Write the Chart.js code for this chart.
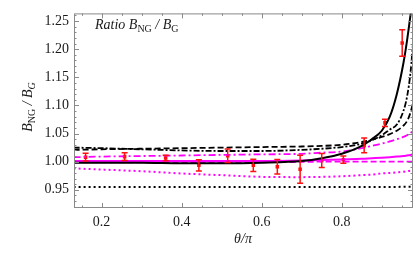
<!DOCTYPE html>
<html>
<head>
<meta charset="utf-8">
<script src="https://cdn.jsdelivr.net/npm/chart.js@4.4.1/dist/chart.umd.min.js"></script>
<style>
  html, body { margin: 0; padding: 0; background: #fff; }
  #wrap { width: 419px; height: 259px; }
</style>
</head>
<body>
<div id="wrap"><canvas id="ratioChart" width="419" height="259"></canvas></div>
<script>
const curveX = [0.13, 0.2, 0.3, 0.4, 0.5, 0.6, 0.7, 0.75, 0.8, 0.85, 0.875, 0.9, 0.92, 0.9375, 0.954, 0.963, 0.972, 0.978];

const blackSolid   = [0.998, 0.998, 0.998, 0.997, 0.997, 0.998, 1.001, 1.006, 1.014, 1.028, 1.040, 1.055, 1.080, 1.120, 1.175, 1.215, 1.262, 1.295];
const blackDashed  = [1.021, 1.022, 1.023, 1.024, 1.025, 1.026, 1.027, 1.028, 1.030, 1.035, 1.039, 1.044, 1.049, 1.055, 1.064, 1.072, 1.088, 1.105];
const blackDashDot = [1.025, 1.024, 1.022, 1.020, 1.019, 1.019, 1.021, 1.023, 1.026, 1.032, 1.038, 1.047, 1.057, 1.066, 1.090, 1.115, 1.160, 1.210];
const blackDotted  = [0.955, 0.955, 0.955, 0.955, 0.955, 0.955, 0.955, 0.955, 0.955, 0.955, 0.955, 0.955, 0.955, 0.955, 0.9555, 0.9555, 0.9555, 0.9555];

const magSolid   = [1.001, 1.001, 1.001, 1.001, 1.001, 1.001, 1.002, 1.003, 1.004, 1.005, 1.006, 1.007, 1.008, 1.009, 1.010, 1.011, 1.012, 1.013];
const magDashed  = [0.999, 0.999, 0.999, 0.999, 0.999, 0.999, 0.9995, 1.000, 1.000, 1.000, 1.000, 1.000, 1.000, 1.000, 1.000, 1.000, 1.000, 1.000];
const magDashDot = [1.008, 1.009, 1.010, 1.011, 1.012, 1.013, 1.014, 1.016, 1.018, 1.024, 1.028, 1.032, 1.036, 1.040, 1.044, 1.047, 1.051, 1.055];
const magDotted  = [0.988, 0.986, 0.983, 0.979, 0.976, 0.973, 0.9725, 0.973, 0.974, 0.976, 0.977, 0.979, 0.980, 0.981, 0.982, 0.983, 0.984, 0.985];

// measured ratio with errors
const pointX   = [0.16, 0.2575, 0.36, 0.443, 0.515, 0.579, 0.639, 0.696, 0.75, 0.804, 0.856, 0.908, 0.951];
const pointY   = [1.008, 1.009, 1.0065, 0.9935, 1.0105, 0.9935, 0.991, 0.9865, 1.002, 1.0035, 1.029, 1.069, 1.211];
const pointErr = [0.007, 0.007, 0.005, 0.010, 0.012, 0.011, 0.013, 0.025, 0.0125, 0.0065, 0.013, 0.0065, 0.0235];

const xTicks = [0.2, 0.4, 0.6, 0.8];
const yTicks = [0.95, 1.00, 1.05, 1.10, 1.15, 1.20, 1.25];

const SERIF = '"Liberation Serif", "DejaVu Serif", serif';

const toXY = (ys) => curveX.map((x, i) => ({ x, y: ys[i] }));

const curve = (ys, color, dash, width) => ({
  data: toXY(ys),
  borderColor: color,
  borderWidth: width || 1.8,
  borderDash: dash,
  pointRadius: 0,
  fill: false,
  cubicInterpolationMode: 'monotone',
});

// draws a run of text pieces (for the subscripts)
const richWidth = (ctx, parts) => parts.reduce((w, p) => { ctx.font = p.font; return w + ctx.measureText(p.text).width; }, 0);
const drawRich = (ctx, parts, x, y) => {
  parts.forEach((p) => {
    ctx.font = p.font;
    ctx.fillText(p.text, x, y + (p.dy || 0));
    x += ctx.measureText(p.text).width;
  });
};

const frameAndText = {
  id: 'frameAndText',
  afterDatasetsDraw(chart) {
    const { ctx, chartArea: a, scales: { x, y } } = chart;

    // error bars
    ctx.save();
    ctx.beginPath();
    ctx.rect(a.left, a.top, a.right - a.left, a.bottom - a.top);
    ctx.clip();
    ctx.strokeStyle = '#ff1010';
    ctx.lineWidth = 1.5;
    ctx.beginPath();
    pointX.forEach((v, i) => {
      const px = x.getPixelForValue(v);
      const top = y.getPixelForValue(pointY[i] + pointErr[i]);
      const bot = y.getPixelForValue(pointY[i] - pointErr[i]);
      ctx.moveTo(px, top); ctx.lineTo(px, bot);
      ctx.moveTo(px - 3, top); ctx.lineTo(px + 3, top);
      ctx.moveTo(px - 3, bot); ctx.lineTo(px + 3, bot);
    });
    ctx.stroke();
    ctx.restore();

    // frame with inward ticks
    ctx.save();
    ctx.strokeStyle = '#8a8a8a';
    ctx.lineWidth = 1;
    ctx.strokeRect(a.left + 0.5, a.top + 0.5, a.right - a.left - 1, a.bottom - a.top - 1);
    ctx.beginPath();
    for (let k = 3; k <= 19; k++) {
      const v = k * 0.05;
      const len = xTicks.some((t) => Math.abs(t - v) < 1e-6) ? 5 : 2.5;
      const px = Math.round(x.getPixelForValue(v)) + 0.5;
      ctx.moveTo(px, a.bottom); ctx.lineTo(px, a.bottom - len);
      ctx.moveTo(px, a.top); ctx.lineTo(px, a.top + len);
    }
    for (let k = 92; k <= 126; k++) {
      const v = k / 100;
      const len = k % 5 === 0 ? 5 : 2.5;
      const py = Math.round(y.getPixelForValue(v)) + 0.5;
      ctx.moveTo(a.left, py); ctx.lineTo(a.left + len, py);
      ctx.moveTo(a.right, py); ctx.lineTo(a.right - len, py);
    }
    ctx.stroke();
    ctx.restore();

    // texts
    ctx.save();
    ctx.fillStyle = '#1a1a1a';
    ctx.textBaseline = 'alphabetic';
    ctx.textAlign = 'left';
    const big = 'italic 14px ' + SERIF;
    const sub = '10px ' + SERIF;
    drawRich(ctx, [
      { text: 'Ratio ', font: big },
      { text: 'B', font: big },
      { text: 'NG', font: sub, dy: 3 },
      { text: ' / ', font: big },
      { text: 'B', font: big },
      { text: 'G', font: sub, dy: 3 },
    ], 95, 29);

    const yLabel = [
      { text: 'B', font: big },
      { text: 'NG', font: sub, dy: 3 },
      { text: ' / ', font: big },
      { text: 'B', font: big },
      { text: 'G', font: 'italic 10px ' + SERIF, dy: 3 },
    ];
    ctx.translate(32, 107);
    ctx.rotate(-Math.PI / 2);
    drawRich(ctx, yLabel, -richWidth(ctx, yLabel) / 2, 0);
    ctx.setTransform(1, 0, 0, 1, 0, 0);

    ctx.font = 'italic 14px ' + SERIF;
    ctx.textAlign = 'center';
    ctx.fillText('\u03B8/\u03C0', 243, 243);
    ctx.restore();
  },
};

new Chart(document.getElementById('ratioChart'), {
  type: 'line',
  data: {
    datasets: [
      curve(blackDotted, '#000', [2, 3], 2),
      curve(blackDashed, '#000', [6, 3]),
      curve(blackDashDot, '#000', [6, 2, 2, 2]),
      curve(blackSolid, '#000', [], 2),
      curve(magDotted, '#ff00ff', [2, 3], 2),
      curve(magDashed, '#ff00ff', [6, 3]),
      curve(magDashDot, '#ff00ff', [7, 3, 2, 3]),
      curve(magSolid, '#ff00ff', [], 2),
      {
        data: pointX.map((x, i) => ({ x, y: pointY[i] })),
        showLine: false,
        pointStyle: 'rect',
        pointRadius: 2.5,
        pointBackgroundColor: '#ff1010',
        pointBorderColor: '#ff1010',
        pointBorderWidth: 0,
      },
    ],
  },
  options: {
    responsive: false,
    animation: false,
    devicePixelRatio: 1,
    layout: { padding: { left: 0, right: 6, top: 5, bottom: 0 } },
    plugins: { legend: { display: false }, tooltip: { enabled: false } },
    scales: {
      x: {
        type: 'linear',
        min: 0.131,
        max: 0.978,
        afterBuildTicks: (s) => { s.ticks = xTicks.map((v) => ({ value: v })); },
        afterFit: (s) => { s.height = 51; },
        grid: { display: false, drawTicks: false },
        border: { display: false },
        ticks: {
          padding: 6,
          color: '#1a1a1a',
          font: { family: SERIF, size: 14 },
          callback: (v) => v.toFixed(1),
        },
      },
      y: {
        type: 'linear',
        min: 0.9176,
        max: 1.2637,
        afterBuildTicks: (s) => { s.ticks = yTicks.map((v) => ({ value: v })); },
        afterFit: (s) => { s.width = 74; },
        grid: { display: false, drawTicks: false },
        border: { display: false },
        ticks: {
          padding: 5,
          color: '#1a1a1a',
          font: { family: SERIF, size: 14 },
          callback: (v) => v.toFixed(2),
        },
      },
    },
  },
  plugins: [frameAndText],
});
</script>
</body>
</html>
